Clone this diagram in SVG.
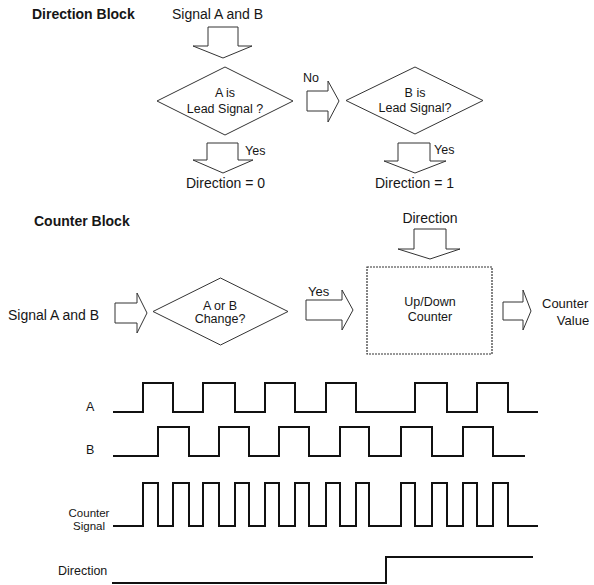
<svg xmlns="http://www.w3.org/2000/svg" width="594" height="585" viewBox="0 0 594 585">
<style>
text{font-family:"Liberation Sans",Arial,sans-serif;fill:#161616}
.t14{font-size:14px}
.t13{font-size:13px}
.t12{font-size:12.5px}
.t11{font-size:11.5px}
.b{font-weight:bold;font-size:14px}
.m{text-anchor:middle}
.shape{fill:#fff;stroke:#333;stroke-width:1}
.box{fill:#fff;stroke:#333;stroke-width:1.2;stroke-dasharray:2 1}
.arrow{fill:#fff;stroke:#333;stroke-width:1;stroke-linejoin:miter}
.wave{fill:none;stroke:#111;stroke-width:2}
</style>
<rect width="594" height="585" fill="#fff"/>

<text class="b" x="32" y="19">Direction Block</text>
<text class="b" x="34" y="226">Counter Block</text>

<g id="direction-input"><text class="t14" x="172" y="19">Signal A and B</text></g>
<g id="dec-a-lead">
  <polygon class="shape" points="225,67 293,101 225,135 157,101"/>
  <text class="t12 m" x="225" y="97">A is</text>
  <text class="t12 m" x="225" y="113">Lead Signal ?</text>
</g>
<g id="dec-b-lead">
  <polygon class="shape" points="415,67 483,100.5 415,134 346,100.5"/>
  <text class="t12 m" x="415" y="97">B is</text>
  <text class="t12 m" x="415" y="112">Lead Signal?</text>
</g>
<g id="dir0"><text class="t14" x="186" y="188">Direction = 0</text></g>
<g id="dir1"><text class="t14" x="375" y="188">Direction = 1</text></g>

<g id="counter-input"><text class="t14" x="8" y="320">Signal A and B</text></g>
<g id="dec-change">
  <polygon class="shape" points="220.5,278 288,311.5 220.5,345 153,311.5"/>
  <text class="t12 m" x="220" y="310">A or B</text>
  <text class="t12 m" x="220" y="323">Change?</text>
</g>
<g id="direction-in"><text class="t14 m" x="430" y="223">Direction</text></g>
<g id="updown">
  <rect class="box" x="367" y="267" width="125" height="87"/>
  <text class="t12 m" x="430" y="306">Up/Down</text>
  <text class="t12 m" x="430" y="321">Counter</text>
</g>
<g id="counter-value">
  <text class="t13" x="542" y="308">Counter</text>
  <text class="t13 m" x="573" y="325">Value</text>
</g>

<g id="connectors">
  <polygon class="arrow" points="208,27 238,27 238,46 252,46 223,58 193,46 208,46"/>
  <polygon class="arrow" points="207,143 238,143 238,160 253,160 223,173 193,160 207,160"/>
  <text class="t12" x="245" y="155">Yes</text>
  <polygon class="arrow" points="307,91 328,91 328,81 339,101 328,122 328,111 307,111"/>
  <text class="t12" x="303" y="82">No</text>
  <polygon class="arrow" points="398,143 430,143 430,161 446,161 415,173 384,161 398,161"/>
  <text class="t12" x="434" y="154">Yes</text>

  <polygon class="arrow" points="115,303 137,303 137,293 147,313 137,333 137,323 115,323"/>
  <polygon class="arrow" points="306,300 342,300 342,290 353,310 342,330 342,320 306,320"/>
  <text class="t13" x="308" y="296">Yes</text>
  <polygon class="arrow" points="414,229 446,229 446,249 460,249 430,259 398,249 414,249"/>
  <polygon class="arrow" points="503,302 523,302 523,290 531,311 523,330 523,320 503,320"/>
</g>

<g id="waveforms">
  <text class="t12" x="86" y="411">A</text>
  <text class="t12" x="86" y="454">B</text>
  <text class="t11 m" x="89" y="517">Counter</text>
  <text class="t11 m" x="89" y="530">Signal</text>
  <text class="t12" x="58" y="575">Direction</text>
  <path class="wave" d="M113,412 H143 V383 H173 V412 H203 V383 H235 V412 H265 V383 H295 V412 H326 V383 H356 V412 H415 V383 H447 V412 H477 V383 H508 V412 H538"/>
  <path class="wave" d="M113,456 H158 V427 H189 V456 H219 V427 H249 V456 H279 V427 H309 V456 H340 V427 H369 V456 H401 V427 H432 V456 H463 V427 H493 V456 H525"/>
  <path class="wave" d="M113,526 H143 V483 H158 V526 H173 V483 H189 V526 H203 V483 H219 V526 H235 V483 H249 V526 H265 V483 H279 V526 H295 V483 H309 V526 H326 V483 H340 V526 H356 V483 H369 V526 H401 V483 H415 V526 H432 V483 H447 V526 H463 V483 H477 V526 H493 V483 H508 V526 H538"/>
  <path class="wave" d="M112,583 H386 V557 H533"/>
</g>
</svg>
